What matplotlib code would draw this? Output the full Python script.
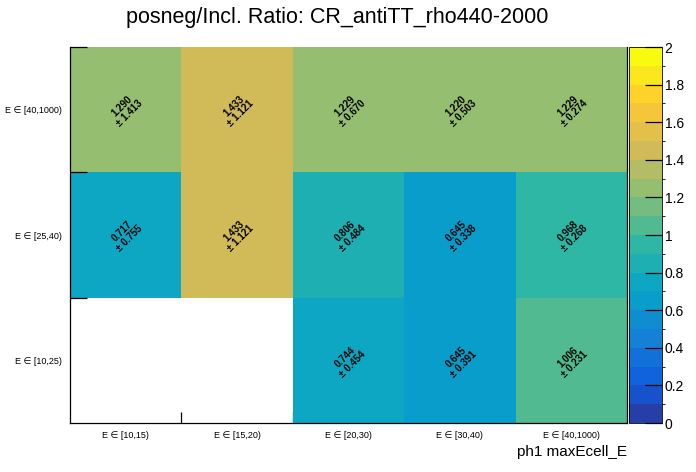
import matplotlib
matplotlib.use("Agg")
import matplotlib.pyplot as plt
import numpy as np
from matplotlib.colors import LinearSegmentedColormap, ListedColormap, BoundaryNorm

plt.rcParams['font.family'] = ['Liberation Sans', 'DejaVu Sans']

# bin labels
x_labels = ['E ∈ [10,15)', 'E ∈ [15,20)', 'E ∈ [20,30)', 'E ∈ [30,40)', 'E ∈ [40,1000)']
y_labels = ['E ∈ [10,25)', 'E ∈ [25,40)', 'E ∈ [40,1000)']

# ratio values, rows from bottom to top (nan = empty bin)
ratio_low = [np.nan, np.nan, 0.744, 0.645, 1.006]
ratio_mid = [0.717, 1.433, 0.806, 0.645, 0.968]
ratio_high = [1.290, 1.433, 1.229, 1.220, 1.229]

err_low = [np.nan, np.nan, 0.454, 0.391, 0.231]
err_mid = [0.755, 1.121, 0.484, 0.338, 0.268]
err_high = [1.413, 1.121, 0.670, 0.503, 0.274]

zmin, zmax, ndiv = 0.0, 2.0, 20

# ROOT kBird palette
stops = [0.0000, 0.1250, 0.2500, 0.3750, 0.5000, 0.6250, 0.7500, 0.8750, 1.0000]
red = [0.2082, 0.0592, 0.0780, 0.0232, 0.1802, 0.5301, 0.8186, 0.9956, 0.9764]
green = [0.1664, 0.3599, 0.5041, 0.6419, 0.7178, 0.7492, 0.7328, 0.7862, 0.9832]
blue = [0.5293, 0.8684, 0.8385, 0.7914, 0.6425, 0.4662, 0.3499, 0.1968, 0.0539]
bird = LinearSegmentedColormap.from_list(
    'bird', list(zip(stops, zip(red, green, blue))), N=255)
# pick one colour per contour level the way ROOT does
lev_cols = [bird(int((i + 0.99) * 255 / ndiv) / 254) for i in range(ndiv)]
cmap = ListedColormap(lev_cols)
norm = BoundaryNorm(np.linspace(zmin, zmax, ndiv + 1), cmap.N)

Z = np.ma.masked_invalid(np.array([ratio_low, ratio_mid, ratio_high]))
E = np.array([err_low, err_mid, err_high])

fig = plt.figure(figsize=(6.96, 4.72), dpi=100)
ax = fig.add_axes([0.1006, 0.1038, 0.8003, 0.7966])
cax = fig.add_axes([0.9037, 0.1038, 0.0474, 0.7966])

mesh = ax.pcolormesh(np.arange(6), np.arange(4), Z, cmap=cmap, norm=norm, zorder=1)

for j in range(Z.shape[0]):
    for i in range(Z.shape[1]):
        if np.ma.is_masked(Z[j, i]):
            continue
        ax.text(i + 0.5, j + 0.5, f'{Z[j, i]:.3f}\n± {E[j, i]:.3f}',
                rotation=45, ha='center', va='center', fontsize=7,
                fontweight='bold', linespacing=1.0, zorder=3,
                rotation_mode='anchor')

ax.set_xlim(0, 5)
ax.set_ylim(0, 3)
ax.set_xticks(np.arange(5) + 0.5)
ax.set_xticklabels(x_labels, fontsize=6.5)
ax.set_yticks(np.arange(3) + 0.5)
ax.set_yticklabels(y_labels, fontsize=6.5)
ax.tick_params(axis='both', which='major', length=0, pad=6)
# ticks at bin edges, pointing inwards
ax.set_xticks(np.arange(1, 5), minor=True)
ax.set_yticks(np.arange(1, 4), minor=True)
ax.tick_params(axis='x', which='minor', direction='in', length=8, width=0.9)
ax.tick_params(axis='y', which='minor', direction='in', length=12, width=0.9)
ax.xaxis.set_zorder(0.5)
ax.spines['top'].set_visible(False)
for s in ax.spines.values():
    s.set_linewidth(0.9)

fig.text(0.484, 0.962, 'posneg/Incl. Ratio: CR_antiTT_rho440-2000',
         fontsize=15.5, ha='center', va='center')
ax.set_xlabel('ph1 maxEcell_E', fontsize=11, loc='right', labelpad=3)

cb = fig.colorbar(mesh, cax=cax, ticks=np.arange(0, 2.01, 0.2))
cb.ax.set_yticklabels(['0', '0.2', '0.4', '0.6', '0.8', '1', '1.2', '1.4', '1.6', '1.8', '2'])
cb.ax.tick_params(direction='in', length=12, width=0.9, labelsize=10, pad=2)
cb.outline.set_linewidth(0.6)

fig.savefig('out.png', dpi=100)
